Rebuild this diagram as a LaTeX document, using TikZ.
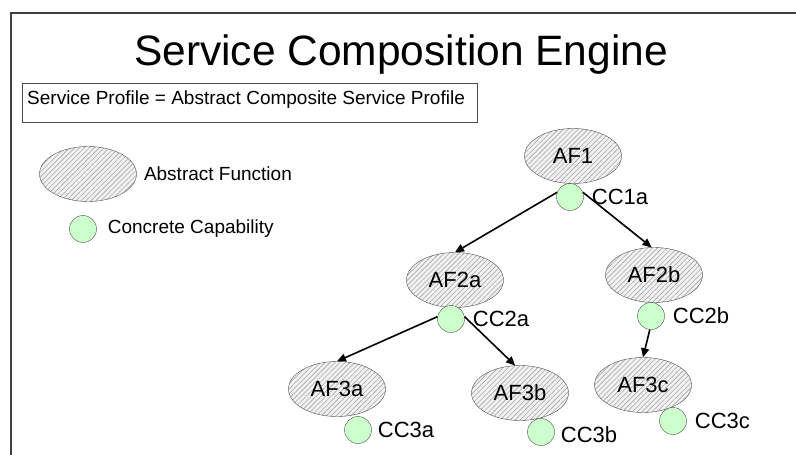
\documentclass[tikz,border=0pt]{standalone}
\usepackage{fontspec}
\setmainfont{Liberation Sans}
\usetikzlibrary{arrows.meta,positioning,shapes.geometric,patterns.meta}
\definecolor{ccgreen}{HTML}{CCFFCC}
\definecolor{framegray}{HTML}{404040}

\begin{document}
\begin{tikzpicture}[
x=1pt,y=-1pt,
af/.style={ellipse,draw=black!70,minimum width=97pt,minimum height=55pt,inner sep=0pt,
preaction={fill=gray!10},pattern={Lines[angle=45,distance=3.5pt,line width=0.6pt]},
pattern color=gray!70,font=\fontsize{22}{26}\selectfont},
cc/.style={circle,draw=black!70,fill=ccgreen,minimum size=27pt,inner sep=0pt},
lbl/.style={font=\fontsize{22}{26}\selectfont,inner sep=0pt},
legtxt/.style={font=\fontsize{19}{23}\selectfont,inner sep=0pt},
arr/.style={-{Triangle[length=9pt,width=8pt]},line width=1.6pt}
]
\useasboundingbox (0,0) rectangle (796,455);
\draw[line width=1.5pt,framegray] (11,455) -- (11,13) -- (796,13);

\node[font=\fontsize{42.5}{50}\selectfont,anchor=base] (title) at (401,65) {Service Composition Engine};
\node[draw=black!70,line width=1pt,anchor=north west,minimum width=455pt,minimum height=39pt]
(prof) at (22,83) {};
\node[legtxt,anchor=west,yshift=3pt] (proft) at ([xshift=5pt]prof.west)
{Service Profile = Abstract Composite Service Profile};

% legend
\node[af] (legaf) at (88,174) {};
\node[legtxt,right=7pt of legaf] (legaft) {Abstract Function};
\node[cc] (legcc) at (83,229) {};
\node[legtxt,right=11pt of legcc] (legcct) {Concrete Capability};

% tree
\node[af] (af1)  at (573,156) {AF1};
\node[af] (af2a) at (455,280) {AF2a};
\node[af] (af2b) at (654,275) {AF2b};
\node[af] (af3a) at (337,389) {AF3a};
\node[af] (af3b) at (520,393) {AF3b};
\node[af] (af3c) at (643,385) {AF3c};

\node[cc] (cc1a) at (570,197) {};
\node[cc] (cc2a) at (451,319) {};
\node[cc] (cc2b) at (651,316) {};
\node[cc] (cc3a) at (358,430) {};
\node[cc] (cc3b) at (541,432) {};
\node[cc] (cc3c) at (673,421) {};

\node[lbl,right=8pt of cc1a] (cc1at) {CC1a};
\node[lbl,right=8pt of cc2a] (cc2at) {CC2a};
\node[lbl,right=8pt of cc2b] (cc2bt) {CC2b};
\node[lbl,right=6pt of cc3a] (cc3at) {CC3a};
\node[lbl,right=6pt of cc3b,yshift=-3pt] (cc3bt) {CC3b};
\node[lbl,right=8pt of cc3c] (cc3ct) {CC3c};

\draw[arr] (cc1a.160) -- (af2a.north);
\draw[arr] (cc1a.20)  -- (af2b.95);
\draw[arr] (cc2a.170) -- (af3a.north);
\draw[arr] (cc2a.10)  -- (af3b.100);
\draw[arr] (cc2b.265) -- (af3c.north);
\end{tikzpicture}
\end{document}
